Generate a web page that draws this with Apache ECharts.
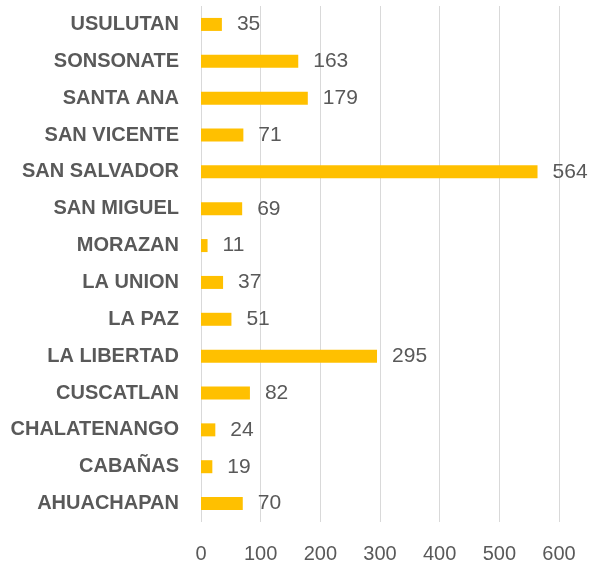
<!DOCTYPE html>
<html>
<head>
<meta charset="utf-8">
<script src="https://cdn.jsdelivr.net/npm/echarts@6/dist/echarts.min.js"></script>
<style>
  html, body { margin: 0; padding: 0; background: #fff; }
  #chart { width: 592px; height: 564px; }
</style>
</head>
<body>
<div id="chart"></div>
<script>
// departamentos, de abajo hacia arriba
var departamentos = ['AHUACHAPAN', 'CABAÑAS', 'CHALATENANGO', 'CUSCATLAN', 'LA LIBERTAD', 'LA PAZ',
  'LA UNION', 'MORAZAN', 'SAN MIGUEL', 'SAN SALVADOR', 'SAN VICENTE', 'SANTA ANA', 'SONSONATE', 'USULUTAN'];
var valores = [70, 19, 24, 82, 295, 51, 37, 11, 69, 564, 71, 179, 163, 35];

var chart = echarts.init(document.getElementById('chart'));

var options = {
  animation: false,
  grid: {
    left: 201, right: 33, top: 6, bottom: 42
  },
  xAxis: {
    type: 'value',
    min: 0,
    max: 600,
    interval: 100,
    axisLine: { show: false },
    axisTick: { show: false },
    axisLabel: {
      color: '#595959',
      fontFamily: 'Liberation Sans',
      fontSize: 20,
      margin: 22
    },
    splitLine: { lineStyle: { color: '#d9d9d9', width: 1 } }
  },
  yAxis: {
    type: 'category',
    data: departamentos,
    axisLine: { show: false },
    axisTick: { show: false },
    axisLabel: {
      color: '#595959',
      fontFamily: 'Liberation Sans',
      fontWeight: 'bold',
      fontSize: 20,
      margin: 22
    }
  },
  series: [{
    type: 'bar',
    data: valores,
    barWidth: 13,
    itemStyle: { color: '#FFC000' },
    label: {
      show: true,
      position: 'right',
      distance: 15,
      color: '#595959',
      fontFamily: 'Liberation Sans',
      fontSize: 21
    }
  }]
};

chart.setOption(options);
</script>
</body>
</html>
